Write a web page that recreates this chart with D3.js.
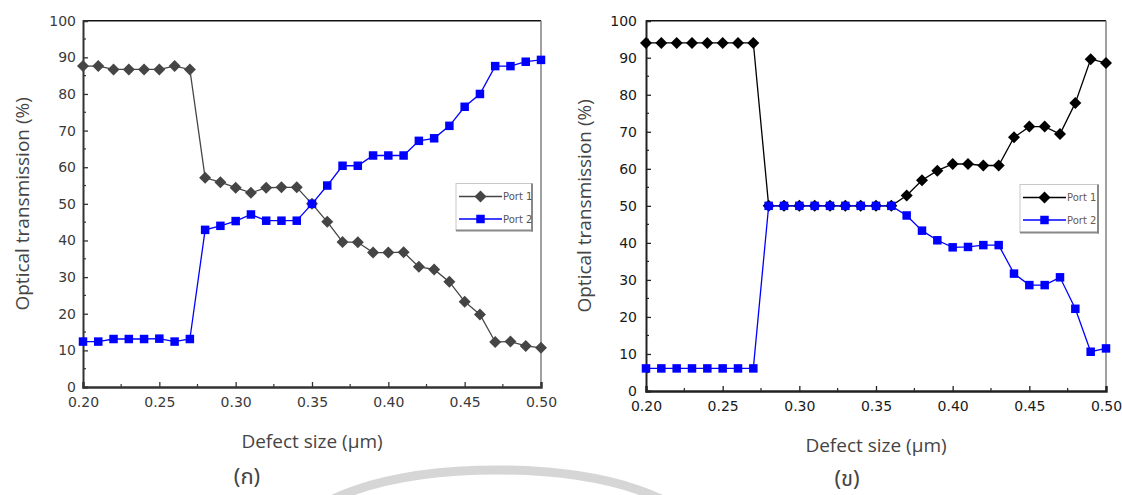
<!DOCTYPE html>
<html><head><meta charset="utf-8">
<script src="https://cdn.jsdelivr.net/npm/d3@7"></script>
<style>html,body{margin:0;padding:0;background:#fff;}svg{display:block;}</style>
</head><body>
<svg id="chart" width="1122" height="495"></svg>
<script>
const defectSize = [0.20,0.21,0.22,0.23,0.24,0.25,0.26,0.27,0.28,0.29,0.30,0.31,0.32,0.33,0.34,0.35,0.36,0.37,0.38,0.39,0.40,0.41,0.42,0.43,0.44,0.45,0.46,0.47,0.48,0.49,0.50];
const leftPort1 = [87.6,87.6,86.7,86.7,86.7,86.7,87.6,86.7,57.1,55.9,54.4,53.0,54.4,54.5,54.5,50.0,45.1,39.6,39.5,36.7,36.7,36.8,32.8,32.1,28.7,23.3,19.8,12.3,12.4,11.2,10.7];
const leftPort2 = [12.4,12.4,13.1,13.1,13.1,13.2,12.4,13.1,42.9,44.0,45.3,47.1,45.4,45.4,45.4,50.0,55.0,60.4,60.4,63.2,63.2,63.2,67.2,67.9,71.3,76.5,80.0,87.6,87.6,88.8,89.3];
const rightPort1 = [94.0,94.0,94.0,94.0,94.0,94.0,94.0,94.0,50.0,50.0,50.0,50.0,50.0,50.0,50.0,50.0,50.0,52.8,56.9,59.5,61.3,61.3,60.9,60.9,68.5,71.4,71.4,69.4,77.8,89.6,88.6];
const rightPort2 = [6.1,6.1,6.1,6.1,6.1,6.1,6.1,6.1,50.0,50.0,50.0,50.0,50.0,50.0,50.0,50.0,50.0,47.4,43.3,40.7,38.8,38.9,39.4,39.4,31.7,28.6,28.6,30.7,22.2,10.6,11.5];
const xTicks = [0.20,0.25,0.30,0.35,0.40,0.45,0.50];
const yTicks = [0,10,20,30,40,50,60,70,80,90,100];
const seriesNames = ["Port 1","Port 2"];
const panelLabels = ["(ก)","(ข)"];
const xTitle = "Defect size (μm)";
const yTitle = "Optical transmission (%)";

const svg = d3.select("#chart");

// watermark arc
svg.append("ellipse").attr("cx",497).attr("cy",538).attr("rx",200).attr("ry",68)
  .attr("fill","none").attr("stroke","#d6d6d6").attr("stroke-width",9);

function diamondPath(r){ return `M0,${-r}L${r},0L0,${r}L${-r},0Z`; }
function squarePath(s){ const h=s/2; return `M${-h},${-h}H${h}V${h}H${-h}Z`; }

function panel(cfg){
  const g = svg.append("g");
  const x = d3.scaleLinear().domain([0.20,0.50]).range([cfg.x0,cfg.x1]);
  const y = d3.scaleLinear().domain([0,100]).range([cfg.yb,cfg.yt]);

  // frame top and right
  g.append("line").attr("x1",cfg.x0).attr("x2",cfg.x1).attr("y1",cfg.yt).attr("y2",cfg.yt)
    .attr("stroke","#111").attr("stroke-width",1.6);
  g.append("line").attr("x1",cfg.x1).attr("x2",cfg.x1).attr("y1",cfg.yt).attr("y2",cfg.yb)
    .attr("stroke","#777").attr("stroke-width",1.4);

  const tickFont = "DejaVu Sans, Verdana, sans-serif";
  // y axis
  const ya = g.append("g").attr("transform",`translate(${cfg.x0},0)`)
    .call(d3.axisLeft(y).tickValues(yTicks).tickSize(-5).tickPadding(cfg.yPad).tickFormat(d3.format("d")));
  ya.select(".domain").attr("stroke",cfg.axisColor).attr("stroke-width",2);
  ya.selectAll(".tick line").attr("stroke",cfg.axisColor).attr("stroke-width",1.3);
  ya.selectAll(".tick text").attr("fill",cfg.labelColor).attr("font-family",tickFont).attr("font-size",14);
  const yMinor = d3.range(5,100,10);
  g.append("g").selectAll("line").data(yMinor).join("line")
    .attr("x1",cfg.x0).attr("x2",cfg.x0+3).attr("y1",d=>y(d)).attr("y2",d=>y(d))
    .attr("stroke",cfg.axisColor).attr("stroke-width",1.2);

  // x axis
  const xa = g.append("g").attr("transform",`translate(0,${cfg.yb})`)
    .call(d3.axisBottom(x).tickValues(xTicks).tickSize(-5).tickPadding(10).tickFormat(d3.format(".2f")));
  xa.select(".domain").attr("stroke",cfg.axisColor).attr("stroke-width",2.4);
  xa.selectAll(".tick line").attr("stroke",cfg.axisColor).attr("stroke-width",1.3);
  xa.selectAll(".tick text").attr("fill",cfg.labelColor).attr("font-family",tickFont).attr("font-size",14);
  const xMinor = [0.225,0.275,0.325,0.375,0.425,0.475];
  g.append("g").selectAll("line").data(xMinor).join("line")
    .attr("x1",d=>x(d)).attr("x2",d=>x(d)).attr("y1",cfg.yb).attr("y2",cfg.yb-3)
    .attr("stroke",cfg.axisColor).attr("stroke-width",1.2);

  // titles
  g.append("text").attr("x",(cfg.x0+cfg.x1)/2).attr("y",cfg.yb+61)
    .attr("text-anchor","middle").attr("font-family","Open Sans, Noto Sans, sans-serif")
    .attr("font-size",19).attr("fill","#444").text(xTitle);
  g.append("text").attr("transform",`translate(${cfg.yTitleX},${(cfg.yt+cfg.yb)/2}) rotate(-90)`)
    .attr("text-anchor","middle").attr("dominant-baseline","central").attr("font-family","Open Sans, Noto Sans, sans-serif")
    .attr("font-size",19).attr("fill","#444").text(yTitle);
  g.append("text").attr("x",cfg.labelX).attr("y",cfg.labelY)
    .attr("text-anchor","middle").attr("font-family","Noto Sans Thai, Noto Sans, Open Sans, sans-serif")
    .attr("font-size",22).attr("fill","#444").text(cfg.label);

  // series
  const line = d3.line().x((d,i)=>x(defectSize[i])).y(d=>y(d));
  g.append("path").datum(cfg.p1).attr("d",line).attr("fill","none").attr("stroke",cfg.p1Color).attr("stroke-width",1.3);
  g.append("g").selectAll("path").data(cfg.p1).join("path")
    .attr("transform",(d,i)=>`translate(${x(defectSize[i])},${y(d)})`)
    .attr("d",diamondPath(6)).attr("fill",cfg.p1Color);
  g.append("path").datum(cfg.p2).attr("d",line).attr("fill","none").attr("stroke","#0000ff").attr("stroke-width",1.3);
  g.append("g").selectAll("path").data(cfg.p2).join("path")
    .attr("transform",(d,i)=>`translate(${x(defectSize[i])},${y(d)})`)
    .attr("d",squarePath(8.5)).attr("fill","#0000ff");

  // legend
  const L = cfg.leg;
  const lg = g.append("g");
  lg.append("rect").attr("x",L.x).attr("y",L.y).attr("width",L.w).attr("height",L.h).attr("fill","#fff")
    .attr("stroke","#c8c8c8").attr("stroke-width",1);
  lg.append("line").attr("x1",L.x+L.w).attr("x2",L.x+L.w).attr("y1",L.y).attr("y2",L.y+L.h+1).attr("stroke","#888").attr("stroke-width",2);
  lg.append("line").attr("x1",L.x).attr("x2",L.x+L.w+1).attr("y1",L.y+L.h).attr("y2",L.y+L.h).attr("stroke","#888").attr("stroke-width",2);
  const entries = [{c:cfg.p1Color,shape:diamondPath(6)},{c:"#0000ff",shape:squarePath(8.5)}];
  entries.forEach((e,k)=>{
    const yy = L.y + 13 + k*22.5;
    lg.append("line").attr("x1",L.x+3).attr("x2",L.x+46).attr("y1",yy).attr("y2",yy).attr("stroke",e.c).attr("stroke-width",1.6);
    lg.append("path").attr("transform",`translate(${L.x+24.5},${yy})`).attr("d",e.shape).attr("fill",e.c);
    lg.append("text").attr("x",L.x+47).attr("y",yy).attr("dominant-baseline","central")
      .attr("font-family","DejaVu Sans, sans-serif").attr("font-size",10).attr("fill",cfg.legText).text(seriesNames[k]);
  });
}

panel({x0:83,x1:541,yt:20.7,yb:387,axisColor:"#333",labelColor:"#3a3a3a",p1:leftPort1,p2:leftPort2,p1Color:"#454545",
  yTitleX:22,yPad:7,label:panelLabels[0],labelX:247,labelY:484,legText:"#555",leg:{x:456,y:183.5,w:76,h:47}});
panel({x0:646,x1:1106,yt:20.7,yb:391,axisColor:"#222",labelColor:"#1a1a1a",p1:rightPort1,p2:rightPort2,p1Color:"#000",
  yTitleX:584,yPad:9,label:panelLabels[1],labelX:847,labelY:486,legText:"#6b5a4a",leg:{x:1020,y:184.5,w:78,h:48}});
</script>
</body></html>
